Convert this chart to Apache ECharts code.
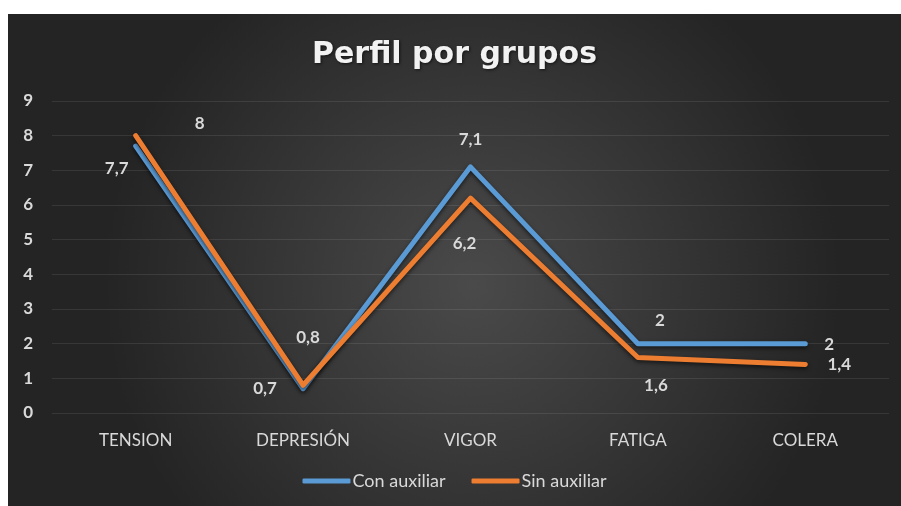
<!DOCTYPE html>
<html>
<head>
<meta charset="utf-8">
<script src="https://cdn.jsdelivr.net/npm/echarts@6/dist/echarts.min.js"></script>
<style>
html,body{margin:0;padding:0;background:#fff;}
#main{position:absolute;left:8px;top:14px;width:893px;height:492px;}
</style>
</head>
<body>
<div id="main"></div>
<script>
// datos del grafico
var categorias = ['TENSION', 'DEPRESIÓN', 'VIGOR', 'FATIGA', 'COLERA'];
var conAuxiliar = [7.7, 0.7, 7.1, 2, 2];
var sinAuxiliar = [8, 0.8, 6.2, 1.6, 1.4];
var ticksY = [0, 1, 2, 3, 4, 5, 6, 7, 8, 9];

// posicion de cada etiqueta (como en excel)
var posCon = [[-19, 22], [-38, 0], [0, -27], [22, -23], [24, 1]];
var posSin = [[64, -12], [5, -48], [-6, 45], [18, 28], [34, 0]];

var fuente = 'Lato, "Open Sans", sans-serif';

function coma(v){
    return String(v).replace('.', ',');
}

function hacerDatos(vals, pos){
    return vals.map(function(v, i){
        return {
            value: v,
            label: {show: true, offset: pos[i]}
        };
    });
}

var myChart = echarts.init(document.getElementById('main'));

var etiqueta = {
    show: true,
    position: 'inside',
    color: '#d9d9d9',
    fontFamily: fuente,
    fontWeight: 'bold',
    fontSize: 17,
    formatter: function(p){ return coma(p.value); }
};

var sombra = {shadowColor: 'rgba(0,0,0,0.6)', shadowBlur: 4, shadowOffsetY: 2};

var option = {
    backgroundColor: {
        type: 'radial', x: 0.52, y: 0.55, r: 0.75,
        colorStops: [
            {offset: 0, color: '#4a4a4a'},
            {offset: 1, color: '#242424'}
        ]
    },
    title: {
        text: 'Perfil por grupos',
        left: 'center',
        top: 21,
        textStyle: {
            color: '#f2f2f2',
            fontFamily: '"DejaVu Sans", sans-serif',
            fontWeight: 'bold',
            fontSize: 30,
            textShadowColor: 'rgba(0,0,0,0.6)',
            textShadowBlur: 3,
            textShadowOffsetX: 1,
            textShadowOffsetY: 1
        }
    },
    legend: {
        bottom: 11,
        left: 'center',
        itemWidth: 48,
        itemHeight: 5,
        itemGap: 26,
        icon: 'roundRect',
        textStyle: {color: '#d9d9d9', fontFamily: fuente, fontSize: 18, padding: [0, 0, 0, -3]},
        data: ['Con auxiliar', 'Sin auxiliar']
    },
    grid: {left: 44, right: 12, top: 87, bottom: 93},
    xAxis: {
        type: 'category',
        data: categorias,
        boundaryGap: true,
        axisLine: {show: false},
        axisTick: {show: false},
        axisLabel: {color: '#d9d9d9', fontFamily: fuente, fontSize: 17, margin: 19}
    },
    yAxis: {
        type: 'value',
        min: ticksY[0],
        max: ticksY[ticksY.length - 1],
        interval: 1,
        axisLine: {show: false},
        axisTick: {show: false},
        splitLine: {lineStyle: {color: 'rgba(255,255,255,0.09)', width: 1}},
        axisLabel: {color: '#d9d9d9', fontFamily: fuente, fontWeight: 'bold', fontSize: 17, margin: 19}
    },
    series: [
        {
            name: 'Con auxiliar',
            type: 'line',
            data: hacerDatos(conAuxiliar, posCon),
            symbol: 'circle',
            symbolSize: 2,
            showSymbol: true,
            color: '#5b9bd5',
            lineStyle: Object.assign({width: 5, cap: 'round', join: 'round'}, sombra),
            label: etiqueta,
            z: 2
        },
        {
            name: 'Sin auxiliar',
            type: 'line',
            data: hacerDatos(sinAuxiliar, posSin),
            symbol: 'circle',
            symbolSize: 2,
            showSymbol: true,
            color: '#ed7d31',
            lineStyle: Object.assign({width: 5, cap: 'round', join: 'round'}, sombra),
            label: etiqueta,
            z: 3
        }
    ]
};
myChart.setOption(option);
</script>
</body>
</html>
